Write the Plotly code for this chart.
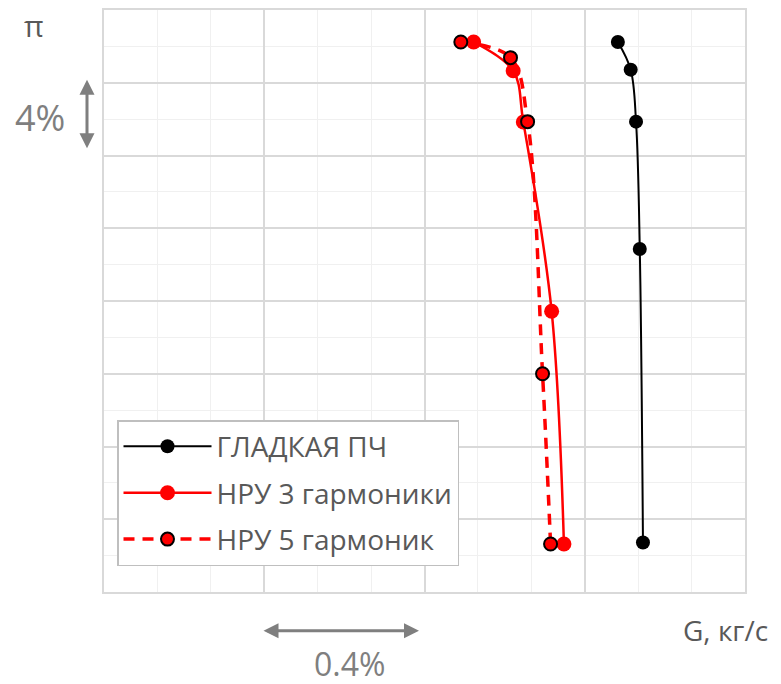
import plotly.graph_objects as go

# Grid units: one minor x cell = 0.1333 % of G, one minor y cell = 2 % of pi
smooth_x = [9.62, 9.86, 9.96, 10.03, 10.09]
smooth_y = [15.12, 14.36, 12.93, 9.43, 1.36]

h3_x = [6.92, 7.66, 7.85, 8.38, 8.61]
h3_y = [15.12, 14.33, 12.92, 7.72, 1.32]

h5_x = [6.68, 7.61, 7.93, 8.21, 8.36]
h5_y = [15.12, 14.69, 12.93, 6.00, 1.32]

names = ["ГЛАДКАЯ ПЧ", "НРУ 3 гармоники", "НРУ 5 гармоник"]

W, H = 781, 684
L, R, T, B = 104, 36, 8, 92
pw, ph = W - L - R, H - T - B


def px(xp):
    return (xp - L) / pw


def py(yp):
    return (H - B - yp) / ph


FONT = "Open Sans"
TXT = "#595959"
ARR = "#7f7f7f"

fig = go.Figure()
fig.add_trace(go.Scatter(
    x=smooth_x, y=smooth_y, name=names[0], legendgroup="a",
    mode="lines+markers", line=dict(color="black", width=2, shape="spline"),
    marker=dict(color="black", size=14),
))
fig.add_trace(go.Scatter(
    x=h3_x, y=h3_y, name=names[1], legendgroup="b",
    mode="lines+markers", line=dict(color="#ff0000", width=2.5, shape="spline"),
    marker=dict(color="#ff0000", size=15),
))
fig.add_trace(go.Scatter(
    x=h5_x, y=h5_y, name=names[2], legendgroup="c",
    mode="lines+markers",
    line=dict(color="#ff0000", width=3.5, shape="spline", dash="11px,8px"),
    marker=dict(color="#ff0000", size=13, line=dict(color="black", width=2)),
))

axis_common = dict(
    showticklabels=False, ticks="", zeroline=False,
    showline=True, mirror=True, linecolor="#d9d9d9", linewidth=2,
    showgrid=True, gridcolor="#d9d9d9", gridwidth=1.5,
)
fig.update_xaxes(range=[0, 12], dtick=3, tick0=0,
                 minor=dict(dtick=1, tick0=0, showgrid=True, gridcolor="#f0f0f0", gridwidth=1.3),
                 **axis_common)
fig.update_yaxes(range=[0, 16], dtick=2, tick0=0,
                 minor=dict(dtick=1, tick0=0, showgrid=True, gridcolor="#f0f0f0", gridwidth=1.3),
                 **axis_common)

annotations = [
    dict(text="π", x=px(34), y=py(24), font=dict(size=30, color=TXT)),
    dict(text="G, кг/с", x=px(725), y=py(630), font=dict(size=28, color=TXT)),
    dict(text="4%", x=px(40), y=py(116), font=dict(size=36, color=ARR)),
    dict(text="0.4%", x=px(349), y=py(664), font=dict(size=32, color=ARR)),
]
for a in annotations:
    a.update(xref="paper", yref="paper", showarrow=False,
             xanchor="center", yanchor="middle")
    a["font"]["family"] = FONT

# double-headed scale arrows
annotations.append(dict(
    xref="paper", yref="paper", x=px(87), y=py(78), ax=0, ay=70,
    axref="pixel", ayref="pixel", text="", showarrow=True,
    arrowhead=2, startarrowhead=2, arrowside="end+start",
    arrowwidth=3, arrowsize=1, startarrowsize=1, arrowcolor=ARR,
))
annotations.append(dict(
    xref="paper", yref="paper", x=px(419), y=py(631), ax=-157, ay=0,
    axref="pixel", ayref="pixel", text="", showarrow=True,
    arrowhead=2, startarrowhead=2, arrowside="end+start",
    arrowwidth=3, arrowsize=1, startarrowsize=1, arrowcolor=ARR,
))

fig.update_layout(
    width=W, height=H,
    margin=dict(l=L, r=R, t=T, b=B),
    paper_bgcolor="white", plot_bgcolor="white",
    font=dict(family=FONT, color=TXT),
    showlegend=True,
    legend=dict(
        x=px(117), y=py(566), xanchor="left", yanchor="bottom",
        bgcolor="white", bordercolor="#bfbfbf", borderwidth=1.5,
        font=dict(size=28, color=TXT, family=FONT),
        itemwidth=88, tracegroupgap=7,
    ),
    annotations=annotations,
)

fig.write_html("out.html")
